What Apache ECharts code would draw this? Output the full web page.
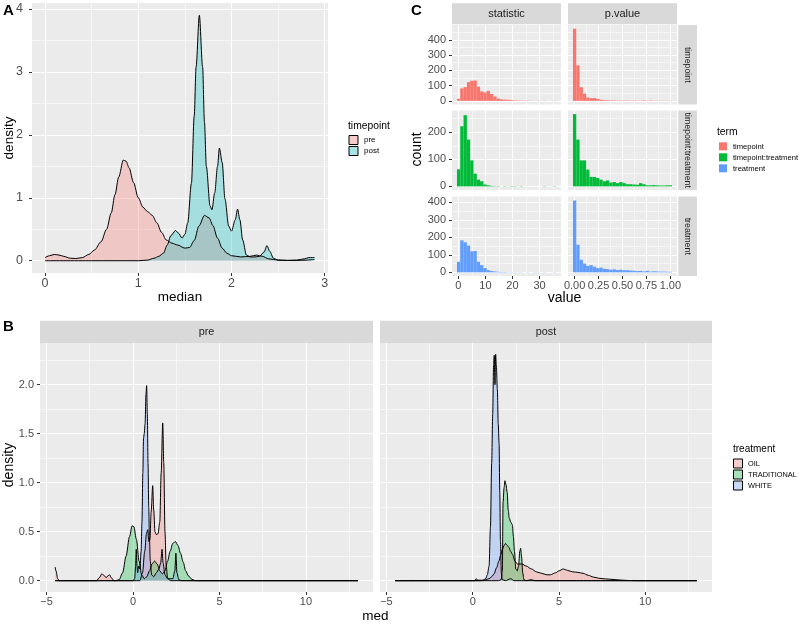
<!DOCTYPE html>
<html><head><meta charset="utf-8">
<script src="https://cdn.jsdelivr.net/npm/echarts@6/dist/echarts.min.js"></script>
<style>html,body{margin:0;padding:0;background:#fff}#c{width:800px;height:624px}</style>
</head><body><div id="c"></div>
<script>
// ---------------- Panel A: density of median by timepoint ----------------
const aPre = [[0.0,0.05],[0.05,0.08],[0.1,0.1],[0.15,0.09],[0.2,0.07],[0.27,0.04],[0.33,0.035],[0.4,0.05],[0.47,0.1],[0.53,0.17],[0.6,0.3],[0.66,0.5],[0.71,0.76],[0.75,1.05],[0.79,1.33],[0.84,1.6],[0.87,1.58],[0.9,1.48],[0.95,1.24],[1.0,1.0],[1.05,0.85],[1.1,0.78],[1.15,0.72],[1.2,0.6],[1.25,0.45],[1.3,0.33],[1.36,0.28],[1.42,0.25],[1.5,0.2],[1.55,0.21],[1.6,0.32],[1.65,0.55],[1.71,0.72],[1.76,0.68],[1.8,0.56],[1.85,0.36],[1.9,0.2],[1.95,0.12],[2.0,0.08],[2.1,0.06],[2.2,0.07],[2.27,0.09],[2.33,0.07],[2.4,0.03],[2.5,0.01],[2.6,0.005],[2.7,0.005],[2.8,0.01],[2.89,0.02]];
const aPost = [[0.0,0],[0.5,0],[1.0,0],[1.1,0.01],[1.17,0.04],[1.22,0.07],[1.27,0.12],[1.31,0.25],[1.35,0.4],[1.4,0.48],[1.43,0.44],[1.47,0.36],[1.5,0.42],[1.53,0.6],[1.57,1.23],[1.6,2.3],[1.62,3.08],[1.655,3.9],[1.69,3.08],[1.71,2.2],[1.73,1.5],[1.77,0.87],[1.79,0.81],[1.82,1.08],[1.85,1.5],[1.87,1.79],[1.9,1.56],[1.93,0.98],[1.97,0.55],[2.0,0.47],[2.04,0.65],[2.065,0.82],[2.09,0.65],[2.12,0.33],[2.16,0.09],[2.2,0.06],[2.25,0.06],[2.3,0.07],[2.35,0.14],[2.38,0.24],[2.41,0.15],[2.45,0.04],[2.5,0.01],[2.6,0.005],[2.7,0.01],[2.78,0.03],[2.83,0.05],[2.89,0.05]];
const aXTicks = [0,1,2,3];
const aXMinor = [0.5,1.5,2.5];
const aYTicks = [0,1,2,3,4];
const aYMinor = [0.5,1.5,2.5,3.5];
const aGroups = ['pre','post'];

// ---------------- Panel B: density of med by treatment, faceted by timepoint ----------------
const bPreOil = [[-4.5,0.14],[-4.45,0.1],[-4.35,0.02],[-4.25,0],[-3,0],[-2.1,0],[-1.95,0.03],[-1.8,0.07],[-1.65,0.05],[-1.55,0.03],[-1.45,0.05],[-1.35,0.06],[-1.25,0.03],[-1.1,0],[0,0],[0.4,0],[0.55,0.08],[0.68,0.3],[0.78,0.48],[0.85,0.52],[0.92,0.4],[0.98,0.42],[1.05,0.7],[1.14,0.97],[1.2,0.72],[1.27,0.5],[1.35,0.47],[1.45,0.48],[1.55,0.6],[1.63,1.1],[1.72,1.61],[1.78,1.2],[1.85,0.5],[1.92,0.15],[2.0,0.03],[2.15,0],[4,0],[8,0],[13.0,0]];
const bPreTrad = [[-4.5,0],[-2,0],[-1.0,0],[-0.8,0.01],[-0.6,0.08],[-0.4,0.25],[-0.2,0.45],[-0.05,0.56],[0.05,0.55],[0.2,0.42],[0.35,0.2],[0.5,0.06],[0.65,0.02],[0.8,0.04],[0.95,0.1],[1.1,0.17],[1.25,0.2],[1.4,0.17],[1.55,0.1],[1.7,0.07],[1.85,0.1],[2.0,0.2],[2.15,0.3],[2.3,0.38],[2.45,0.4],[2.6,0.36],[2.75,0.28],[2.9,0.19],[3.05,0.1],[3.2,0.05],[3.4,0.015],[3.6,0],[6,0],[13.0,0]];
const bPreWhite = [[-4.5,0],[-2,0],[0.0,0],[0.1,0.02],[0.15,0.15],[0.19,0.32],[0.23,0.15],[0.27,0.08],[0.33,0.15],[0.4,0.12],[0.47,0.3],[0.52,0.6],[0.57,1.1],[0.61,1.45],[0.65,1.5],[0.7,1.6],[0.75,1.9],[0.79,1.99],[0.83,1.7],[0.87,1.2],[0.91,0.75],[0.95,0.45],[1.0,0.2],[1.08,0.06],[1.2,0.04],[1.35,0.08],[1.5,0.12],[1.6,0.18],[1.68,0.32],[1.74,0.18],[1.85,0.06],[2.0,0.02],[2.3,0.02],[2.42,0.1],[2.48,0.28],[2.54,0.08],[2.65,0.01],[2.8,0],[6,0],[13.0,0]];
const bPostOil = [[-4.5,0],[-2,0],[0.5,0],[0.7,0.005],[0.85,0.015],[1.0,0.025],[1.12,0.045],[1.24,0.07],[1.38,0.13],[1.52,0.2],[1.62,0.26],[1.72,0.32],[1.82,0.36],[1.91,0.38],[2.0,0.36],[2.1,0.34],[2.2,0.3],[2.3,0.27],[2.45,0.2],[2.6,0.17],[2.85,0.17],[3.1,0.15],[3.4,0.12],[3.7,0.09],[4.0,0.075],[4.3,0.06],[4.5,0.06],[4.8,0.08],[5.0,0.1],[5.25,0.12],[5.5,0.105],[5.8,0.09],[6.1,0.085],[6.4,0.075],[6.7,0.055],[7.0,0.037],[7.3,0.025],[7.7,0.018],[8.2,0.012],[8.6,0.006],[9.0,0.002],[9.5,0],[11,0],[13.0,0]];
const bPostTrad = [[-4.5,0],[-2,0],[1.5,0],[1.65,0.01],[1.72,0.1],[1.76,0.8],[1.82,0.95],[1.87,1.02],[1.93,0.98],[2.0,0.9],[2.06,0.72],[2.12,0.64],[2.2,0.6],[2.3,0.57],[2.36,0.45],[2.42,0.3],[2.5,0.12],[2.58,0.1],[2.66,0.15],[2.73,0.3],[2.78,0.33],[2.83,0.25],[2.9,0.08],[2.97,0.01],[3.1,0],[3.4,0.01],[3.6,0],[6,0],[13.0,0]];
const bPostWhite = [[-4.5,0],[-2,0],[0.1,0],[0.2,0.02],[0.3,0.005],[0.6,0.005],[0.75,0.02],[0.85,0.06],[0.95,0.15],[1.03,0.55],[1.1,1.2],[1.16,1.7],[1.21,2.2],[1.25,2.3],[1.29,2.0],[1.33,2.31],[1.37,2.2],[1.43,1.95],[1.48,1.6],[1.53,1.4],[1.57,0.9],[1.61,0.4],[1.66,0.08],[1.72,0.01],[1.9,0],[2.2,0.02],[2.4,0],[6,0],[13.0,0]];
const bXTicks = [-5,0,5,10];
const bXTickLabels = ['\u22125','0','5','10'];
const bXMinor = [-2.5,2.5,7.5,12.5];
const bYTicks = [0,0.5,1,1.5,2];
const bYTickLabels = ['0.0','0.5','1.0','1.5','2.0'];
const bYMinor = [0.25,0.75,1.25,1.75,2.25];
const bFacets = ['pre','post'];
const bGroups = ['OIL','TRADITIONAL','WHITE'];

// ---------------- Panel C: histograms of statistic / p.value by term ----------------
const statCenters = [0.11,1.33,2.55,3.77,4.99,6.21,7.43,8.65,9.87,11.09,12.31,13.53,14.75,15.97,17.19,18.41,19.63,20.85,22.07,23.29,24.51,25.73,26.95,28.17,29.39,30.61,31.83,33.05,34.27,35.49];
const statBinWidth = 1.22;
const pvalCenters = [0,0.0345,0.069,0.1034,0.1379,0.1724,0.2069,0.2414,0.2759,0.3103,0.3448,0.3793,0.4138,0.4483,0.4828,0.5172,0.5517,0.5862,0.6207,0.6552,0.6897,0.7241,0.7586,0.7931,0.8276,0.8621,0.8966,0.931,0.9655,1.0];
const pvalBinWidth = 0.0345;
const statTimepoint   = [13,82,90,122,132,133,93,62,55,65,45,28,15,10,8,7,5,3,2,2,1,1,1,0,1,0,1,0,0,1];
const statInteraction = [63,222,263,173,96,47,25,19,7,4,2,1,1,0,1,0,1,1,0,1,0,0,0,0,0,0,1,0,0,1];
const statTreatment   = [60,183,172,153,120,122,60,41,25,12,8,5,3,2,2,1,1,1,1,1,0,1,0,1,1,0,1,0,0,1];
const pvalTimepoint   = [473,233,89,47,22,18,18,13,7,5,4,3,3,2,2,2,2,1,2,1,1,3,1,2,1,1,1,1,1,1];
const pvalInteraction = [267,173,96,96,62,35,35,31,25,19,22,14,16,12,16,12,8,8,7,6,12,8,4,4,5,4,3,3,4,4];
const pvalTreatment   = [411,158,72,50,37,41,32,24,27,20,18,15,17,13,15,12,12,10,9,7,8,5,9,4,6,5,4,4,3,3];
const cStatTicks = [0,10,20,30];
const cStatMinor = [5,15,25,35];
const cPvalTicks = [0,0.25,0.5,0.75,1];
const cPvalTickLabels = ['0.00','0.25','0.50','0.75','1.00'];
const cPvalMinor = [0.125,0.375,0.625,0.875];
const cRow1Ticks = [0,100,200,300,400];
const cRow1Minor = [50,150,250,350,450];
const cRow2Ticks = [0,100,200];
const cRow2Minor = [50,150,250];
const cRow3Ticks = [0,100,200,300,400];
const cRow3Minor = [50,150,250,350];
const cCols = ['statistic','p.value'];
const cRows = ['timepoint','timepoint:treatment','treatment'];

// ---------------- build ----------------
const FONT = '"Liberation Sans", Arial, Helvetica, sans-serif';
const grids = [], xAxes = [], yAxes = [], series = [], graphics = [];

function majorAxis(gi, r, ticks, show, labels, fs, margin, pos) {
  return {
    type: 'value', gridIndex: gi, position: pos, min: r[0], max: r[1],
    axisLine: { show: false, onZero: false },
    axisTick: { show: show, customValues: ticks, length: 3, lineStyle: { color: '#333333', width: 1 } },
    axisLabel: { show: show, customValues: ticks, color: '#4D4D4D', fontSize: fs, margin: margin, fontFamily: FONT,
      formatter: function (v) { let i = ticks.findIndex(t => Math.abs(t - v) < 1e-9); return labels ? labels[i] : String(v); } },
    splitLine: { show: true, lineStyle: { color: '#FFFFFF', width: 1.1 } }
  };
}
function minorAxis(gi, r, ticks, pos) {
  return {
    type: 'value', gridIndex: gi, position: pos, min: r[0], max: r[1],
    axisLine: { show: false, onZero: false },
    axisTick: { show: false, customValues: ticks },
    axisLabel: { show: false },
    splitLine: { show: true, lineStyle: { color: '#FFFFFF', width: 0.55 } }
  };
}
function panel(rect, xr, yr, xMaj, xMin, yMaj, yMin, o) {
  const gi = grids.length;
  grids.push({ left: rect[0], top: rect[1], width: rect[2], height: rect[3], show: true, backgroundColor: '#EBEBEB', borderWidth: 0, containLabel: false, outerBoundsMode: 'none' });
  const xi = xAxes.length, yi = yAxes.length;
  xAxes.push(majorAxis(gi, xr, xMaj, o.showX, o.xLabels, o.fs, o.xMargin, 'bottom'));
  xAxes.push(minorAxis(gi, xr, xMin, 'top'));
  yAxes.push(majorAxis(gi, yr, yMaj, o.showY, o.yLabels, o.fs, o.yMargin, 'left'));
  yAxes.push(minorAxis(gi, yr, yMin, 'right'));
  return { xi: xi, yi: yi };
}
function dens(data, p, color) {
  series.push({ type: 'line', xAxisIndex: p.xi, yAxisIndex: p.yi, data: data, symbol: 'none', smooth: 0.3, smoothMonotone: 'x',
    lineStyle: { color: '#000000', width: 1 }, areaStyle: { color: color, opacity: 1 }, silent: true, animation: false });
}
function hist(centers, width, counts, p, color) {
  const data = centers.map((c, i) => [c - width / 2, c + width / 2, counts[i]]);
  series.push({ type: 'custom', xAxisIndex: p.xi, yAxisIndex: p.yi, data: data, encode: { x: [0, 1], y: 2 }, silent: true, animation: false,
    renderItem: function (params, api) {
      const p0 = api.coord([api.value(0), api.value(2)]);
      const p1 = api.coord([api.value(1), 0]);
      return { type: 'rect', shape: { x: p0[0], y: p0[1], width: p1[0] - p0[0], height: p1[1] - p0[1] }, style: { fill: color } };
    } });
}
function txt(s, x, y, size, opt) {
  opt = opt || {};
  graphics.push({ type: 'text', x: x, y: y, rotation: opt.rot || 0, silent: true, z: 100,
    style: { text: s, fill: opt.color || '#000000', fontSize: size, fontFamily: FONT, fontWeight: opt.bold ? 'bold' : 'normal',
      align: opt.align || 'center', verticalAlign: 'middle' } });
}
function rect(x, y, w, h, fill, stroke) {
  graphics.push({ type: 'rect', silent: true, z: 90, shape: { x: x, y: y, width: w, height: h },
    style: { fill: fill, stroke: stroke || null, lineWidth: stroke ? 1 : 0 } });
}

// Panel A
const pa = panel([32, 3, 296, 270], [-0.14, 3.035], [-0.195, 4.095], aXTicks, aXMinor, aYTicks, aYMinor,
  { showX: true, showY: true, fs: 12.5, xMargin: 4, yMargin: 9 });
dens(aPre, pa, 'rgba(248,118,109,0.3)');
dens(aPost, pa, 'rgba(0,191,196,0.3)');
txt('A', 8.5, 11, 15, { bold: true });
txt('median', 180, 297, 13.5);
txt('density', 9, 138, 13.5, { rot: Math.PI / 2 });
txt('timepoint', 348, 126.5, 10.3, { align: 'left' });
const aKeyCols = ['rgba(248,118,109,0.3)', 'rgba(0,191,196,0.3)'];
aGroups.forEach((g, i) => {
  rect(349, 135.5 + i * 11, 9, 9, '#F2F2F2');
  rect(349, 135.5 + i * 11, 9, 9, aKeyCols[i], '#000000');
  txt(g, 364, 140 + i * 11, 8, { align: 'left' });
});

// Panel B
const bCols = ['rgba(248,118,109,0.3)', 'rgba(0,186,56,0.3)', 'rgba(97,156,255,0.3)'];
const bXR = [-5.375, 13.875], bYR = [-0.1155, 2.4255];
const pb1 = panel([40, 343, 333, 249], bXR, bYR, bXTicks, bXMinor, bYTicks, bYMinor,
  { showX: true, showY: true, fs: 11, xMargin: 4, yMargin: 6, xLabels: bXTickLabels, yLabels: bYTickLabels });
const pb2 = panel([380, 343, 332, 249], bXR, bYR, bXTicks, bXMinor, bYTicks, bYMinor,
  { showX: true, showY: false, fs: 11, xMargin: 4, yMargin: 6, xLabels: bXTickLabels, yLabels: bYTickLabels });
dens(bPreOil, pb1, bCols[0]); dens(bPreTrad, pb1, bCols[1]); dens(bPreWhite, pb1, bCols[2]);
dens(bPostOil, pb2, bCols[0]); dens(bPostTrad, pb2, bCols[1]); dens(bPostWhite, pb2, bCols[2]);
rect(40, 320.7, 333, 22.3, '#D9D9D9');
rect(380, 320.7, 332, 22.3, '#D9D9D9');
txt(bFacets[0], 206.5, 332, 10.8, { color: '#1A1A1A' });
txt(bFacets[1], 546, 332, 10.8, { color: '#1A1A1A' });
txt('B', 8.5, 327, 15, { bold: true });
txt('density', 9, 465, 14, { rot: Math.PI / 2 });
txt('med', 375.5, 616.5, 13.5);
txt('treatment', 733, 449, 10, { align: 'left' });
bGroups.forEach((g, i) => {
  rect(733.5, 459 + i * 11, 9, 9, '#F2F2F2');
  rect(733.5, 459 + i * 11, 9, 9, bCols[i], '#000000');
  txt(g, 748, 463.8 + i * 11, 7.4, { align: 'left' });
});

// Panel C
const cColors = ['#F8766D', '#00BA38', '#619CFF'];
const cColX = [[452, 109], [568, 109]];
const cRowY = [[25, 79.5], [110.5, 79.5], [196.5, 79.5]];
const cYR = [[-24, 497], [-13.35, 280.35], [-21, 434]];
const cYT = [cRow1Ticks, cRow2Ticks, cRow3Ticks];
const cYM = [cRow1Minor, cRow2Minor, cRow3Minor];
const statData = [statTimepoint, statInteraction, statTreatment];
const pvalData = [pvalTimepoint, pvalInteraction, pvalTreatment];
for (let r = 0; r < 3; r++) {
  const last = r === 2;
  const ps = panel([cColX[0][0], cRowY[r][0], cColX[0][1], cRowY[r][1]], [-2.33, 37.93], cYR[r], cStatTicks, cStatMinor, cYT[r], cYM[r],
    { showX: last, showY: true, fs: 11, xMargin: 4, yMargin: 6 });
  const pp = panel([cColX[1][0], cRowY[r][0], cColX[1][1], cRowY[r][1]], [-0.069, 1.069], cYR[r], cPvalTicks, cPvalMinor, cYT[r], cYM[r],
    { showX: last, showY: false, fs: 11, xMargin: 4, yMargin: 6, xLabels: cPvalTickLabels });
  hist(statCenters, statBinWidth, statData[r], ps, cColors[r]);
  hist(pvalCenters, pvalBinWidth, pvalData[r], pp, cColors[r]);
  rect(678.3, cRowY[r][0], 18.7, cRowY[r][1], '#D9D9D9');
  txt(cRows[r], 687.7, cRowY[r][0] + cRowY[r][1] / 2, 8.8, { rot: -Math.PI / 2, color: '#1A1A1A' });
}
rect(452, 3.3, 109, 21, '#D9D9D9');
rect(568, 3.3, 109, 21, '#D9D9D9');
txt(cCols[0], 506.5, 14, 11, { color: '#1A1A1A' });
txt(cCols[1], 622.5, 14, 11, { color: '#1A1A1A' });
txt('C', 416.5, 11, 15, { bold: true });
txt('count', 417, 149.5, 14, { rot: Math.PI / 2 });
txt('value', 564.5, 298.5, 14);
txt('term', 717, 132.5, 10.3, { align: 'left' });
cRows.forEach((g, i) => {
  rect(719, 142.3 + i * 11, 8, 8, cColors[i]);
  txt(g, 733, 146.5 + i * 11, 7.6, { align: 'left' });
});

const chart = echarts.init(document.getElementById('c'), null, { renderer: 'canvas' });
chart.setOption({
  animation: false,
  backgroundColor: '#FFFFFF',
  textStyle: { fontFamily: FONT },
  grid: grids, xAxis: xAxes, yAxis: yAxes, series: series, graphic: { elements: graphics }
});
</script></body></html>
